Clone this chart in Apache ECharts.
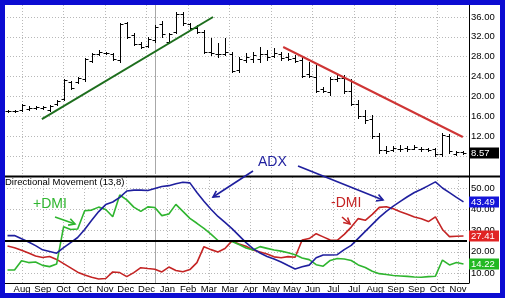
<!DOCTYPE html>
<html><head><meta charset="utf-8">
<script src="https://cdn.jsdelivr.net/npm/echarts@6/dist/echarts.min.js"></script>
<style>html,body{margin:0;padding:0;background:#fff}#c{width:509px;height:303px}</style>
</head><body><div id="c"></div>
<script>
// ---- data ----
const monthLabels = ['Aug','Sep','Oct','Oct','Nov','Dec','Dec','Jan','Feb','Mar','Mar','Apr','May','May','Jun','Jul','Jul','Aug','Sep','Sep','Oct','Nov'];
const priceOpen = [17.0,17.0,17.2,17.4,17.6,17.7,17.3,18.4,19.4,23.0,
  23.0,23.5,27.2,28.5,28.8,28.5,27.3,34.8,32.3,30.5,
  30.2,31.3,34.5,31.0,33.0,36.6,34.5,33.8,33.0,29.0,
  28.5,28.6,28.5,25.3,27.3,27.5,27.6,28.5,28.2,28.6,
  28.0,27.8,27.3,24.5,24.0,21.5,20.8,23.5,23.8,21.0,
  18.5,16.0,15.5,12.0,9.3,9.3,9.4,9.6,9.5,9.5,
  9.4,9.4,8.5,12.0,8.5,8.8];
const priceHigh = [17.3,17.3,18.4,18.0,18.0,18.0,18.2,19.2,23.6,23.2,
  24.0,27.7,28.7,29.3,29.0,28.7,34.7,35.0,32.7,31.0,
  32.0,34.4,35.2,32.8,37.0,37.0,34.7,34.4,33.4,31.7,
  30.7,31.7,28.9,27.9,28.7,28.9,30.0,29.3,29.7,28.9,
  28.7,28.3,27.9,26.9,26.3,21.8,23.9,24.3,24.3,23.6,
  19.2,17.2,16.2,12.7,10.1,10.1,10.3,10.1,10.3,9.9,
  9.7,9.7,12.7,12.5,9.1,9.1];
const priceLow = [16.8,16.8,17.0,17.2,17.4,17.5,17.0,18.2,19.2,21.4,
  22.8,23.2,26.9,28.3,28.5,27.3,27.0,31.7,30.3,29.7,
  30.0,31.0,32.0,30.8,32.7,34.4,33.4,32.7,28.7,28.3,
  27.9,28.3,24.9,24.9,26.9,26.9,26.9,27.3,27.9,27.3,
  27.3,26.9,23.9,23.9,20.8,20.8,20.2,23.2,20.6,18.2,
  15.6,14.7,11.7,8.7,8.7,9.1,9.1,9.1,9.4,9.1,
  9.1,8.1,8.1,8.7,8.3,8.5];
const priceClose = [17.0,17.1,18.2,17.6,17.8,17.8,18.0,19.0,23.4,21.6,
  23.8,27.5,28.5,29.0,28.8,27.6,34.5,32.0,30.6,30.0,
  31.6,34.0,32.6,32.5,36.6,34.8,33.8,33.0,29.0,28.7,
  28.5,29.0,25.2,27.5,28.0,28.3,28.5,28.0,28.8,27.8,
  27.6,27.2,24.2,24.2,21.0,21.0,23.5,23.8,21.0,18.5,
  16.0,15.2,12.0,9.2,9.0,9.6,9.5,9.4,9.9,9.4,
  9.3,8.4,12.3,9.0,8.9,8.57];
const adx = [27.6,27.6,26.1,24.6,22.9,20.9,20.1,19.3,21.9,24.3,
  26.7,30.5,34.8,38.9,42.2,43.4,45.6,48.6,49.0,49.0,
  48.8,49.8,50.7,51.1,52.0,52.7,52.4,47.9,43.8,40.0,
  36.6,33.8,30.9,27.6,24.3,21.5,19.4,17.8,16.6,15.2,
  13.5,11.9,12.9,13.7,17.2,18.5,18.5,18.6,21.0,23.0,
  26.3,29.6,32.9,36.2,39.0,41.5,43.7,45.9,47.9,49.4,
  51.1,52.9,50.0,47.8,45.6,43.49];
const plusDI = [11.4,11.4,15.8,14.9,15.2,13.6,13.0,14.2,31.8,30.5,
  30.7,39.3,39.6,41.0,39.9,36.5,46.7,44.4,41.0,39.0,
  41.1,40.8,37.0,37.8,42.3,39.0,35.7,33.4,31.0,28.3,
  25.3,25.1,24.8,23.4,21.8,20.8,22.4,21.6,20.8,20.3,
  19.5,18.6,17.1,16.3,13.9,13.2,15.9,16.8,16.6,15.9,
  13.8,12.6,10.8,9.7,9.3,8.8,8.6,8.4,8.1,8.0,
  8.3,8.5,16.1,13.8,14.9,14.22];
const minusDI = [22.7,21.9,20.7,19.4,18.0,17.3,17.8,16.4,14.4,12.4,
  10.4,9.1,8.0,7.2,7.4,10.5,10.2,8.3,10.2,12.5,
  12.1,11.8,10.5,12.8,11.2,10.6,11.6,14.9,22.4,21.0,
  19.9,21.5,25.1,23.6,22.6,20.8,19.9,18.9,17.6,17.2,
  17.7,17.4,25.5,26.2,28.5,27.0,25.5,25.4,28.2,31.6,
  35.6,34.8,37.6,40.9,41.2,40.2,38.8,37.7,36.4,35.5,
  34.2,36.4,30.5,27.1,27.3,27.41];
const greenTrend = [[4.9,15.45],[29.3,36.0]];
const redTrend = [[39.3,29.96],[64.9,11.83]];
const refLevel = 25;
const yearBoundaryIndex = 21;

// ---- chart ----
const N = priceClose.length;
const font = '"Liberation Sans", Arial, sans-serif';
const gridCol = '#b8b8b8';
const C_ADX = '#1f1f9e', C_PLUS = '#2fb52f', C_MINUS = '#c42424';
const chart = echarts.init(document.getElementById('c'));
const lbl = {fontSize:9.5, color:'#000', fontFamily:font};
const vSplit = {show:true, lineStyle:{color:gridCol, type:[1,2], width:1}};

chart.setOption({
  animation:false,
  backgroundColor:'#fff',
  grid:[
    {left:4, right:42, top:17, height:139},
    {left:4, right:42, top:188, height:85},
    {left:22, right:51, top:5, height:169},
    {left:22, right:51, top:177, height:106}
  ],
  xAxis:[
    {gridIndex:0, type:'value', min:-0.5, max:N-0.5, show:false},
    {gridIndex:1, type:'value', min:-0.5, max:N-0.5, show:false},
    {gridIndex:2, type:'category', data:monthLabels, boundaryGap:false, axisLine:{show:false}, axisTick:{show:false}, axisLabel:{show:false}, splitLine:vSplit},
    {gridIndex:3, type:'category', data:monthLabels, boundaryGap:false, axisLine:{show:false}, axisTick:{show:false},
      axisLabel:Object.assign({show:true, margin:1, interval:0}, lbl), splitLine:vSplit}
  ],
  yAxis:[
    {gridIndex:0, type:'value', min:8, max:36, interval:4, position:'right', axisLine:{show:false}, axisTick:{show:false},
      axisLabel:Object.assign({margin:4, formatter:v => v === 8 ? '' : v.toFixed(2)}, lbl),
      splitLine:{show:true, lineStyle:{color:gridCol, type:[1,2]}}},
    {gridIndex:1, type:'value', min:10, max:50, interval:10, position:'right', axisLine:{show:false}, axisTick:{show:false},
      axisLabel:Object.assign({margin:4, formatter:v => v.toFixed(2)}, lbl),
      splitLine:{show:true, lineStyle:{color:gridCol, type:[1,2]}}},
    {gridIndex:2, type:'value', show:false},
    {gridIndex:3, type:'value', show:false}
  ],
  series:[
    {type:'custom', xAxisIndex:0, yAxisIndex:0, clip:false, z:3,
      data: priceClose.map((c,i) => [i, priceOpen[i], priceHigh[i], priceLow[i], c]),
      encode:{x:0, y:[1,2,3,4]},
      renderItem:(params, api) => {
        const x = api.value(0);
        const o = api.coord([x, api.value(1)]), h = api.coord([x, api.value(2)]);
        const l = api.coord([x, api.value(3)]), c = api.coord([x, api.value(4)]);
        const px = Math.round(h[0]) + 0.5;
        const st = {stroke:'#000', lineWidth:1};
        const oy = Math.round(o[1]) + 0.5, cy = Math.round(c[1]) + 0.5;
        return {type:'group', children:[
          {type:'line', shape:{x1:px, y1:Math.round(h[1]), x2:px, y2:Math.round(l[1])+1}, style:st},
          {type:'line', shape:{x1:px-3, y1:oy, x2:px, y2:oy}, style:st},
          {type:'line', shape:{x1:px, y1:cy, x2:px+3, y2:cy}, style:st}
        ]};
      }},
    {type:'line', xAxisIndex:0, yAxisIndex:0, data:greenTrend, symbol:'none', clip:false, z:4,
      lineStyle:{color:'#1d6e1d', width:2}},
    {type:'line', xAxisIndex:0, yAxisIndex:0, data:redTrend, symbol:'none', clip:false, z:4,
      lineStyle:{color:'#cf3535', width:2}},
    {type:'line', xAxisIndex:1, yAxisIndex:1, data:minusDI.map((v,i)=>[i,v]), symbol:'none', clip:false,
      lineStyle:{color:C_MINUS, width:1.6},
      markLine:{silent:true, symbol:'none', label:{show:false}, lineStyle:{color:'#000', width:2, type:'solid'},
        data:[{yAxis:refLevel}]}},
    {type:'line', xAxisIndex:1, yAxisIndex:1, data:plusDI.map((v,i)=>[i,v]), symbol:'none', clip:false,
      lineStyle:{color:C_PLUS, width:1.6}},
    {type:'line', xAxisIndex:1, yAxisIndex:1, data:adx.map((v,i)=>[i,v]), symbol:'none', clip:false,
      lineStyle:{color:C_ADX, width:1.6}}
  ]
});

// ---- overlays (frame, annotations, last-value boxes) ----
function arrow(x1,y1,x2,y2,color){
  const a = Math.atan2(y2-y1, x2-x1), L = 7, s = 0.5;
  return [
    {type:'line', shape:{x1,y1,x2,y2}, style:{stroke:color, lineWidth:1.6}, z:50},
    {type:'polyline', shape:{points:[[x2-L*Math.cos(a-s), y2-L*Math.sin(a-s)],[x2,y2],[x2-L*Math.cos(a+s), y2-L*Math.sin(a+s)]]},
      style:{stroke:color, lineWidth:1.6, fill:null}, z:50}
  ];
}
function valueBox(yAxisIndex, value, fill){
  const y = chart.convertToPixel({yAxisIndex}, value);
  return [
    {type:'rect', shape:{x:469, y:Math.round(y)-5.5, width:30, height:11}, style:{fill}, z:60},
    {type:'text', x:471, y:Math.round(y), style:{text:value.toFixed(2), fill:'#fff', font:'9.5px ' + font, textVerticalAlign:'middle'}, z:61}
  ];
}
const yx = Math.round(chart.convertToPixel({xAxisIndex:0}, yearBoundaryIndex)) + 0.5;
const els = [].concat(
  [{type:'line', shape:{x1:yx, y1:5, x2:yx, y2:174}, style:{stroke:'#a8a8a8', lineWidth:1}, z:1},
   {type:'line', shape:{x1:yx, y1:177, x2:yx, y2:283}, style:{stroke:'#a8a8a8', lineWidth:1}, z:1},
   {type:'line', shape:{x1:469.5, y1:4, x2:469.5, y2:283}, style:{stroke:'#000', lineWidth:1}, z:40},
   {type:'line', shape:{x1:4, y1:283.5, x2:469.5, y2:283.5}, style:{stroke:'#000', lineWidth:1}, z:40},
   {type:'line', shape:{x1:4, y1:176.5, x2:502, y2:176.5}, style:{stroke:'#000', lineWidth:2}, z:40},
   {type:'text', x:5, y:182, style:{text:'Directional Movement (13,8)', fill:'#000', font:'9.5px ' + font, textVerticalAlign:'middle'}, z:45},
   {type:'text', x:258, y:162, style:{text:'ADX', fill:C_ADX, font:'14px ' + font, textVerticalAlign:'middle'}, z:50},
   {type:'text', x:33, y:204, style:{text:'+DMI', fill:C_PLUS, font:'14px ' + font, textVerticalAlign:'middle'}, z:50},
   {type:'text', x:331, y:203, style:{text:'-DMI', fill:C_MINUS, font:'14px ' + font, textVerticalAlign:'middle'}, z:50}],
  arrow(253,171,213,197,C_ADX),
  arrow(298,166,383,200,C_ADX),
  arrow(55,217,75,224,C_PLUS),
  arrow(342,217,350,224,C_MINUS),
  valueBox(0, priceClose[N-1], '#000'),
  valueBox(1, adx[N-1], '#1515d8'),
  valueBox(1, minusDI[N-1], '#e02424'),
  valueBox(1, plusDI[N-1], '#22b822'),
  [{type:'rect', shape:{x:2.5, y:2.5, width:500, height:293}, style:{fill:null, stroke:'#0c0cd2', lineWidth:5}, z:100}]
);
chart.setOption({graphic:{elements:els}});
</script>
</body></html>
